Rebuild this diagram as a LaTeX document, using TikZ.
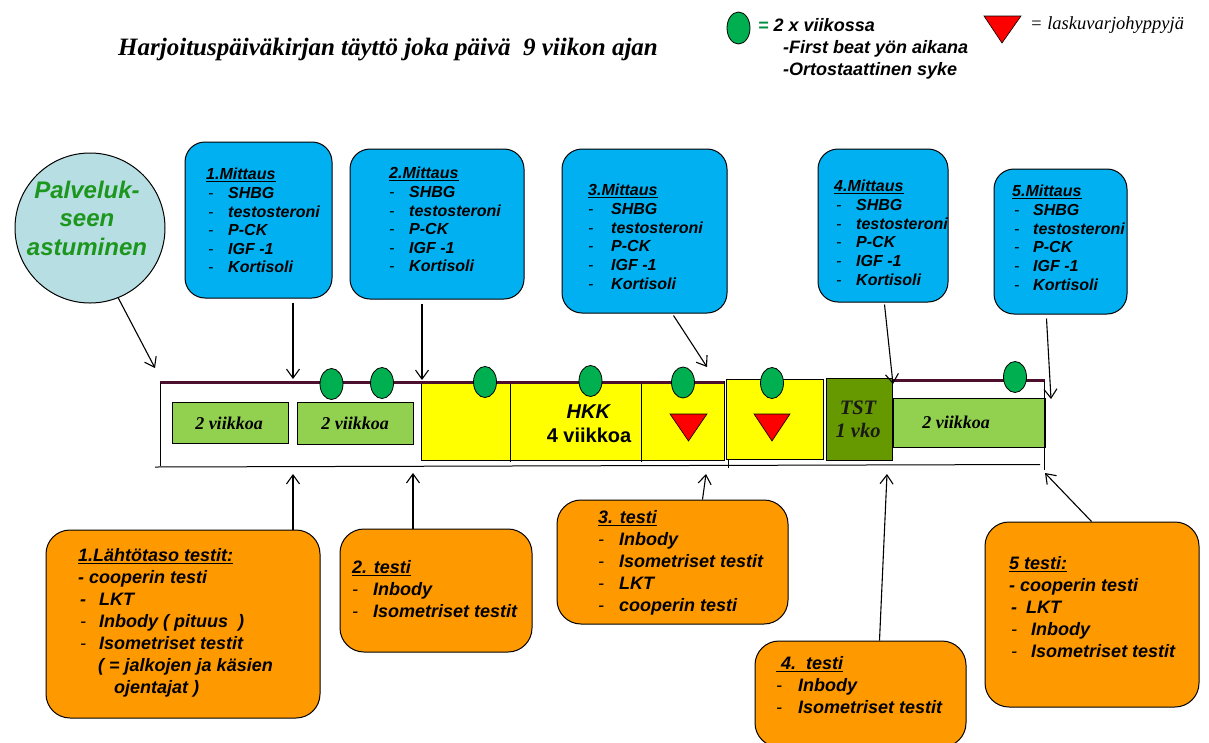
\documentclass[tikz,border=0pt]{standalone}
\usepackage{fontspec}
\usepackage{graphicx}
\setmainfont{Liberation Serif}
\setsansfont{Liberation Sans}
\usetikzlibrary{arrows.meta,shapes.geometric}
\definecolor{cblue}{RGB}{0,176,240}
\definecolor{corange}{RGB}{255,153,0}
\definecolor{cyel}{RGB}{255,255,0}
\definecolor{clgreen}{RGB}{146,208,80}
\definecolor{cdgreen}{RGB}{102,153,0}
\definecolor{cdot}{RGB}{0,176,80}
\definecolor{ccirc}{RGB}{183,222,226}
\definecolor{ctxtgreen}{RGB}{28,150,28}
\definecolor{cmaroon}{RGB}{77,15,46}
\definecolor{cred}{RGB}{255,0,0}
\newcommand\fbl{\fontsize{16}{18.6}\selectfont\sffamily\bfseries\itshape}
\newcommand\forg{\fontsize{18}{22}\selectfont\sffamily\bfseries\itshape}
\newcommand\dsh[2]{\makebox[#1][l]{\mdseries -}#2}
\begin{document}
\begin{tikzpicture}[x=1pt,y=-1pt,
  bluebox/.style={draw=black, line width=1pt, fill=cblue, rounded corners=20pt, inner sep=0},
  orgbox/.style={draw=black, line width=1pt, fill=corange, rounded corners=24pt, inner sep=0},
  txt/.style={anchor=north west, inner sep=0, align=left},
  arr/.style={line width=1.1pt, -{Straight Barb[length=9pt,width=13pt,line width=1.1pt]}},
  dot/.style={ellipse, draw=black, line width=0.8pt, fill=cdot, minimum width=23pt, minimum height=31pt, inner sep=0},
  seg/.style={draw=black, line width=1pt, inner sep=0},
  wk/.style={font=\fontsize{18}{22}\selectfont\rmfamily\bfseries\itshape, inner sep=0},
  tri/.style={draw=black, line width=0.6pt, fill=cred}
]
\useasboundingbox (0,0) rectangle (1209,742);

% ---------- title and legend ----------
\node[inner sep=0, font=\fontsize{25}{28}\selectfont\rmfamily\bfseries\itshape] (title) at (388,50)
  {Harjoituspäiväkirjan täyttö joka päivä\ \ 9 viikon ajan};
\node[dot, minimum width=23pt, minimum height=32pt] (ldot) at (738.5,28) {};
\node[anchor=west, inner sep=0, font=\fontsize{18}{22}\selectfont\sffamily\bfseries\itshape] (l1) at (758,25)
  {\textcolor{cdot!80!black}{=} 2 x viikossa};
\node[txt, font=\fontsize{18}{22}\selectfont\sffamily\bfseries\itshape] (l2) at (783,40)
  {-First beat yön aikana\\-Ortostaattinen syke};
\draw[tri] (984,16) -- (1021,16) -- (1002,43) -- cycle;
\node[anchor=west, inner sep=0, font=\fontsize{18.5}{22}\selectfont\rmfamily\itshape] (l3) at (1030,25)
  {= laskuvarjohyppyjä};

% ---------- circle ----------
\node[circle, draw=black, line width=1pt, fill=ccirc, minimum size=150pt, inner sep=0] (circ) at (90,228) {};
\node[inner sep=0, align=center, text=ctxtgreen, font=\fontsize{24}{28.5}\selectfont\sffamily\bfseries\itshape] (ctext) at (87,218)
  {Palveluk-\\seen\\astuminen};

% ---------- blue boxes ----------
\node[bluebox, minimum width=147pt, minimum height=156pt] (b1) at (258.5,220) {};
\node[bluebox, minimum width=174pt, minimum height=150pt] (b2) at (437,224) {};
\node[bluebox, minimum width=165pt, minimum height=164pt] (b3) at (644.5,231) {};
\node[bluebox, minimum width=130pt, minimum height=153pt] (b4) at (883,225.5) {};
\node[bluebox, minimum width=133pt, minimum height=145pt] (b5) at (1060.5,241.5) {};

\node[txt, font=\fbl] (b1t) at (206,168.2) {\underline{1.Mittaus}\\
  \hspace{2pt}\dsh{20pt}{SHBG}\\ \hspace{2pt}\dsh{20pt}{testosteroni}\\ \hspace{2pt}\dsh{20pt}{P-CK}\\ \hspace{2pt}\dsh{20pt}{IGF -1}\\ \hspace{2pt}\dsh{20pt}{Kortisoli}};
\node[txt, font=\fbl] (b2t) at (389,167.2) {\underline{2.Mittaus}\\
  \dsh{20pt}{SHBG}\\ \dsh{20pt}{testosteroni}\\ \dsh{20pt}{P-CK}\\ \dsh{20pt}{IGF -1}\\ \dsh{20pt}{Kortisoli}};
\node[txt, font=\fbl] (b3t) at (588,184.2) {\underline{3.Mittaus}\\
  \dsh{23pt}{SHBG}\\ \dsh{23pt}{testosteroni}\\ \dsh{23pt}{P-CK}\\ \dsh{23pt}{IGF -1}\\ \dsh{23pt}{Kortisoli}};
\node[txt, font=\fbl] (b4t) at (834,180.2) {\underline{4.Mittaus}\\
  \hspace{2pt}\dsh{20pt}{SHBG}\\ \hspace{2pt}\dsh{20pt}{testosteroni}\\ \hspace{2pt}\dsh{20pt}{P-CK}\\ \hspace{2pt}\dsh{20pt}{IGF -1}\\ \hspace{2pt}\dsh{20pt}{Kortisoli}};
\node[txt, font=\fbl] (b5t) at (1012,185.2) {\underline{5.Mittaus}\\
  \hspace{2pt}\dsh{19pt}{SHBG}\\ \hspace{2pt}\dsh{19pt}{testosteroni}\\ \hspace{2pt}\dsh{19pt}{P-CK}\\ \hspace{2pt}\dsh{19pt}{IGF -1}\\ \hspace{2pt}\dsh{19pt}{Kortisoli}};

% ---------- timeline ----------
\node[seg, fill=cyel, minimum width=303pt, minimum height=79pt] (y1) at (572.5,421) {};
\draw[black, line width=1pt] (510,382) -- (510,462);
\draw[black, line width=1pt] (641,382) -- (641,462);
\node[seg, fill=cyel, minimum width=97pt, minimum height=80pt] (y2) at (774.5,419) {};
\node[seg, fill=cdgreen, minimum width=66pt, minimum height=82pt] (tst) at (859,419) {};
\node[seg, fill=clgreen, minimum width=152pt, minimum height=49pt] (g3) at (969,422.5) {};
\node[seg, fill=clgreen, minimum width=116pt, minimum height=41pt] (g1) at (230,422.5) {};
\node[seg, fill=clgreen, minimum width=116pt, minimum height=42pt] (g2) at (355,423) {};

\draw[cmaroon, line width=3pt] (160,382) -- (724,382);
\draw[cmaroon, line width=3pt] (892,380.5) -- (1045,380.5);
\draw[black, line width=1pt] (160,383) -- (160,466);
\draw[black, line width=1pt] (155,467) -- (1040,464.5);
\draw[black, line width=1pt] (1044,381) -- (1044,470);
\draw[black, line width=1pt] (728,460) -- (728,468);

\node[wk] (g1t) at (229,423) {2 viikkoa};
\node[wk] (g2t) at (355,423) {2 viikkoa};
\node[wk] (g3t) at (956,422) {2 viikkoa};
\node[inner sep=0, align=center, font=\fontsize{20}{24}\selectfont\sffamily\bfseries] (hkk) at (589,424)
  {\textit{HKK}\\4 viikkoa};
\node[inner sep=0, align=center, text=black!90, font=\fontsize{20.5}{23}\selectfont\rmfamily\bfseries\itshape] (tstt) at (858,419)
  {TST\\1 vko};

\draw[tri] (670,414) -- (707,414) -- (688.5,441) -- cycle;
\draw[tri] (754,414) -- (790,414) -- (772,441) -- cycle;

\node[dot] (d1) at (331.5,384) {};
\node[dot] (d2) at (382,383) {};
\node[dot] (d3) at (485,382) {};
\node[dot] (d4) at (590.5,381) {};
\node[dot] (d5) at (683,382.5) {};
\node[dot] (d6) at (772,383) {};
\node[dot] (d7) at (1015,377) {};

% ---------- orange boxes ----------
\node[orgbox, minimum width=274pt, minimum height=188pt] (o1) at (183,624) {};
\node[orgbox, minimum width=192pt, minimum height=123pt] (o2) at (436,590.5) {};
\node[orgbox, minimum width=231pt, minimum height=124pt] (o3) at (672.5,562) {};
\node[orgbox, minimum width=211pt, minimum height=106pt] (o4) at (860.5,694) {};
\node[orgbox, minimum width=214pt, minimum height=185pt] (o5) at (1092,614.5) {};

\node[txt, font=\forg] (o1t) at (78,548.5) {\underline{1.Lähtötaso testit:}\\
  - cooperin testi\\
  \hspace{2pt}\makebox[19pt][l]{-}LKT\\
  \hspace{2pt}\dsh{19pt}{Inbody ( pituus\ \ )}\\
  \hspace{2pt}\dsh{19pt}{Isometriset testit}\\
  \hspace{20pt}( = jalkojen ja käsien\\
  \hspace{36pt}ojentajat )};
\node[txt, font=\forg] (o2t) at (352,560.5) {\underline{2. testi}\\
  \dsh{21pt}{Inbody}\\ \dsh{21pt}{Isometriset testit}};
\node[txt, font=\forg] (o3t) at (598,510.5) {\underline{3. testi}\\
  \dsh{21pt}{Inbody}\\ \dsh{21pt}{Isometriset testit}\\ \dsh{21pt}{LKT}\\ \dsh{21pt}{cooperin testi}};
\node[txt, font=\forg] (o4t) at (776,656.5) {\underline{\ 4.\ \ testi}\\
  \dsh{22pt}{Inbody}\\ \dsh{22pt}{Isometriset testit}};
\node[txt, font=\forg] (o5t) at (1009,556.5) {\underline{5 testi:}\\
  - cooperin testi\\
  \hspace{2pt}\makebox[15pt][l]{-}LKT\\
  \hspace{2pt}\dsh{20pt}{Inbody}\\
  \hspace{2pt}\dsh{20pt}{Isometriset testit}};

% ---------- connectors ----------
\coordinate (a0) at (155,368);
\coordinate (a1) at (293,379);
\coordinate (a2) at (422,380);
\coordinate (a3) at (707,367);
\coordinate (a4) at (893,384);
\coordinate (a5) at (1051,399);
\coordinate (u1) at (293,474);
\coordinate (u2) at (413,473);
\coordinate (u3) at (706,474);
\coordinate (u4) at (887,474);
\coordinate (u5) at (1045,473);

\draw[arr] (circ.-68) -- (a0);
\draw[arr] ([yshift=-4pt]b1.south -| a1) -- (a1);
\draw[arr] ([yshift=-4pt]b2.south -| a2) -- (a2);
\draw[arr] ([xshift=112pt,yshift=-2pt]b3.south west) -- (a3);
\draw[arr] ([xshift=67pt,yshift=-2pt]b4.south west) -- (a4);
\draw[arr] ([xshift=53pt,yshift=-4pt]b5.south west) -- (a5);

\draw[arr] (o1.north -| u1) -- (u1);
\draw[arr] (o2.north -| u2) -- (u2);
\draw[arr] ([xshift=146pt]o3.north west) -- (u3);
\draw[arr] ([xshift=125pt]o4.north west) -- (u4);
\draw[arr] ([xshift=107pt]o5.north west) -- (u5);
\end{tikzpicture}
\end{document}
